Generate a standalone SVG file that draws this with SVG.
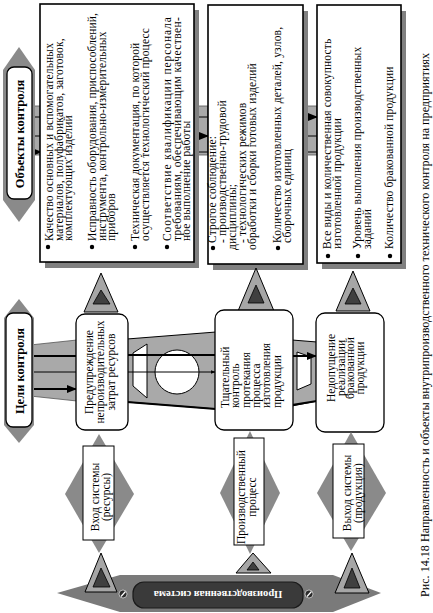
<svg xmlns="http://www.w3.org/2000/svg" width="433" height="613" viewBox="0 0 433 613">
<style>
text{font-family:"Liberation Serif","Times New Roman",serif;fill:#000}
.t{font-size:11.5px;letter-spacing:0.15px}
.m{font-size:11.5px}
.lbl{font-size:12.5px;font-weight:bold}
.box{fill:#fff;stroke:#000;stroke-width:1.6}
.shd{fill:#808080}
.rbox{fill:#fff;stroke:#000;stroke-width:1.3}
.lr{fill:#fff;stroke:#000;stroke-width:1}
.dia{fill:#8a8a8a}
.tri{fill:#a6a6a6;stroke:#000;stroke-width:1}
.tin{fill:#404040;stroke:#000;stroke-width:0.8}
.band{fill:#a9a9a9;stroke:#555;stroke-width:0.8}
.thk{stroke:#000;stroke-width:2;fill:none}
.thn{stroke:#000;stroke-width:1;fill:none}
.bul{fill:#000}
</style>
<defs>
<marker id="ah" viewBox="0 0 10 10" refX="9" refY="5" markerWidth="5" markerHeight="5" orient="auto">
<path d="M0,1 L10,5 L0,9 z" fill="#000"/>
</marker>
</defs>

<!-- connectors -->
<g id="connectors">
  <rect class="band" x="32" y="106" width="9" height="49"/>
  <line class="thn" x1="32" y1="117" x2="41" y2="117"/>
  <line class="thn" x1="32" y1="136" x2="41" y2="136"/>
  <line class="thk" x1="30" y1="152" x2="41" y2="152" marker-end="url(#ah)"/>
  <rect class="band" x="194" y="106" width="14" height="49"/>
  <line class="thn" x1="194" y1="117" x2="208" y2="117"/>
  <line class="thk" x1="194" y1="136" x2="208" y2="136" marker-end="url(#ah)"/>
  <line class="thn" x1="194" y1="152" x2="208" y2="152"/>
  <rect class="band" x="303" y="106" width="14" height="49"/>
  <line class="thk" x1="303" y1="117" x2="317" y2="117" marker-end="url(#ah)"/>
  <line class="thn" x1="303" y1="136" x2="317" y2="136"/>
  <line class="thn" x1="303" y1="152" x2="317" y2="152"/>
  <polygon class="band" points="30,345 77,340 77,401 30,396"/>
  <line class="thk" x1="30" y1="356" x2="77" y2="356"/>
  <line class="thn" x1="30" y1="372" x2="77" y2="372"/>
  <line class="thk" x1="30" y1="389" x2="76" y2="389" marker-end="url(#ah)"/>
  <polygon points="127,339 216,332 216,409 127,402" fill="#a9a9a9" stroke="#000" stroke-width="1"/>
  <line class="thk" x1="127" y1="402" x2="216" y2="409"/>
  <polygon points="133,353 147,344 147,398 133,386" fill="#fff" stroke="#000" stroke-width="1"/>
  <circle cx="177" cy="372" r="22" fill="#fff" stroke="#000" stroke-width="1"/>
  <line class="thk" x1="127" y1="355" x2="216" y2="355"/>
  <line class="thn" x1="127" y1="372" x2="215" y2="372" marker-end="url(#ah)"/>
  <polygon points="292,340 317,342 317,401 292,406" fill="#a9a9a9" stroke="#000" stroke-width="1"/>
  <polygon points="297,352 311,357 311,384 297,390" fill="#fff" stroke="#000" stroke-width="1"/>
  <line class="thk" x1="292" y1="356" x2="316" y2="356" marker-end="url(#ah)"/>
  <line class="thk" x1="292" y1="405" x2="317" y2="401"/>
</g>

<g id="objects-label">
  <polygon class="dia" points="19,47 35,70 35,200 19,222 3,200 3,70"/>
  <rect class="rbox" x="7" y="67" width="25" height="132" rx="7"/>
  <text class="lbl" text-anchor="middle" transform="translate(23.5,134) rotate(-90)">Объекты контроля</text>
</g>

<g id="goals-label">
  <polygon class="dia" points="19,299 34,318 34,425 19,443 4,425 4,318"/>
  <rect class="rbox" x="6" y="313" width="26" height="114" rx="7"/>
  <text class="lbl" text-anchor="middle" transform="translate(23.5,371) rotate(-90)">Цели контроля</text>
</g>

<g id="obj-box-1">
  <rect class="shd" x="45" y="10" width="154" height="258"/>
  <rect class="box" x="40" y="4" width="154" height="258"/>
  <circle class="bul" cx="48" cy="247" r="2.2"/>
  <text class="t" transform="translate(53,241) rotate(-90)"><tspan x="0">Качество основных и вспомогательных</tspan><tspan x="0" dy="9.5">материалов, полуфабрикатов, заготовок,</tspan><tspan x="0" dy="9.5">комплектующих изделий</tspan></text>
  <circle class="bul" cx="92" cy="247" r="2.2"/>
  <text class="t" transform="translate(96,241) rotate(-90)"><tspan x="0" textLength="228" lengthAdjust="spacingAndGlyphs">Исправность оборудования, приспособлений,</tspan><tspan x="0" dy="9.5">инструмента, контрольно-измерительных</tspan><tspan x="0" dy="9.5">приборов</tspan></text>
  <circle class="bul" cx="135" cy="247" r="2.2"/>
  <text class="t" transform="translate(139,241) rotate(-90)"><tspan x="0">Техническая документация, по которой</tspan><tspan x="0" dy="9.5">осуществляется технологический процесс</tspan></text>
  <circle class="bul" cx="167" cy="247" r="2.2"/>
  <text class="t" transform="translate(171,241) rotate(-90)"><tspan x="0" textLength="224" lengthAdjust="spacing">Соответствие квалификации персонала</tspan><tspan x="0" dy="9.5" textLength="224" lengthAdjust="spacing">требованиям, обеспечивающим качествен-</tspan><tspan x="0" dy="9.5">ное выполнение работы</tspan></text>
</g>

<g id="obj-box-2">
  <rect class="shd" x="213" y="11" width="95" height="259"/>
  <rect class="box" x="208" y="5" width="95" height="259"/>
  <circle class="bul" cx="213" cy="248" r="2.2"/>
  <text class="t" transform="translate(216,243) rotate(-90)"><tspan x="0">Строгое соблюдение:</tspan><tspan x="0" dy="10">- производственно-трудовой</tspan><tspan x="-7" dy="9.5">дисциплины;</tspan><tspan x="0" dy="10">- технологических режимов</tspan><tspan x="-7" dy="10">обработки и сборки готовых изделий</tspan></text>
  <circle class="bul" cx="278" cy="248" r="2.2"/>
  <text class="t" transform="translate(281,243) rotate(-90)"><tspan x="0">Количество изготовленных деталей, узлов,</tspan><tspan x="0" dy="9.5">сборочных единиц</tspan></text>
</g>

<g id="obj-box-3">
  <rect class="shd" x="322" y="11" width="84" height="258"/>
  <rect class="box" x="317" y="5" width="84" height="258"/>
  <circle class="bul" cx="328" cy="256" r="2.2"/>
  <text class="t" transform="translate(331,249) rotate(-90)"><tspan x="0">Все виды и количественная совокупность</tspan><tspan x="0" dy="9.5">изготовленной продукции</tspan></text>
  <circle class="bul" cx="358" cy="256" r="2.2"/>
  <text class="t" transform="translate(361,249) rotate(-90)"><tspan x="0">Уровень выполнения производственных</tspan><tspan x="0" dy="9.5">заданий</tspan></text>
  <circle class="bul" cx="390" cy="256" r="2.2"/>
  <text class="t" transform="translate(393,249) rotate(-90)">Количество бракованной продукции</text>
</g>

<g id="tri-up-1"><polygon class="tri" points="101,273 84,312 118,312"/><polygon class="tin" points="101,290 93,304 110,304"/></g>
<g id="tri-up-2"><polygon class="tri" points="256,268 238,311 274,311"/><polygon class="tin" points="256,285 248,303 264,303"/></g>
<g id="tri-up-3"><polygon class="tri" points="353,271 336,311 370,311"/><polygon class="tin" points="353,288 345,304 361,304"/></g>

<g id="goal-1">
  <rect class="rbox" x="76" y="314" width="52" height="116" rx="9"/>
  <text class="m" text-anchor="middle" transform="translate(93,372) rotate(-90)"><tspan x="0">Предупреждение</tspan><tspan x="0" dy="11">непроизводительных</tspan><tspan x="0" dy="11">затрат ресурсов</tspan></text>
</g>
<g id="goal-2">
  <rect class="rbox" x="215" y="310" width="78" height="120" rx="9"/>
  <text class="m" transform="translate(229,408) rotate(-90)"><tspan x="0">Тщательный</tspan><tspan x="0" dy="10.3">контроль</tspan><tspan x="0" dy="10.3">протекания</tspan><tspan x="0" dy="10.3">процесса</tspan><tspan x="0" dy="10.3">изготовления</tspan><tspan x="0" dy="10.3">продукции</tspan></text>
</g>
<g id="goal-3">
  <rect class="rbox" x="316" y="313" width="68" height="119" rx="9"/>
  <text class="m" text-anchor="middle" transform="translate(335,368) rotate(-90)"><tspan x="0">Недопущение</tspan><tspan x="0" dy="9.5">реализации</tspan><tspan x="0" dy="9.5">бракованной</tspan><tspan x="0" dy="9.5">продукции</tspan></text>
</g>

<g id="sys-in">
  <polygon class="dia" points="99,434 134,494 99,553 65,494"/>
  <rect class="lr" x="83" y="446" width="31" height="94"/>
  <text class="m" text-anchor="middle" transform="translate(99,497) rotate(-90)"><tspan x="0">Вход системы</tspan><tspan x="0" dy="10.5">(ресурсы)</tspan></text>
</g>
<g id="sys-process">
  <polygon class="dia" points="250,431 280,493 250,554 220,493"/>
  <rect class="lr" x="234" y="438" width="30" height="107"/>
  <text class="m" text-anchor="middle" transform="translate(245,497) rotate(-90)"><tspan x="0">Производственный</tspan><tspan x="0" dy="10.5">процесс</tspan></text>
</g>
<g id="sys-out">
  <polygon class="dia" points="351,432 386,493 351,551 317,493"/>
  <rect class="lr" x="333" y="444" width="31" height="94"/>
  <text class="m" text-anchor="middle" transform="translate(351,493) rotate(-90)"><tspan x="0">Выход системы</tspan><tspan x="0" dy="10.5">(продукция)</tspan></text>
</g>

<g id="banner">
  <polygon points="57,593 120,575 333,575 381,593 333,612 120,612" fill="#7a7a7a"/>
  <rect x="133" y="582" width="170" height="26" rx="11" fill="#3a3a3a" stroke="#1a1a1a" stroke-width="1.2"/>
  <text x="0" y="0" transform="translate(218,591) rotate(180)" text-anchor="middle" style="font-size:10.5px;font-weight:bold;fill:#fff">Производственная система</text>
  <circle cx="123" cy="594" r="4" fill="#2a2a2a" stroke="#fff" stroke-width="0.6"/>
  <line x1="121" y1="596.5" x2="125.5" y2="591.5" stroke="#fff" stroke-width="1.2"/>
  <circle cx="309" cy="594" r="4" fill="#2a2a2a" stroke="#fff" stroke-width="0.6"/>
  <line x1="307" y1="596.5" x2="311.5" y2="591.5" stroke="#fff" stroke-width="1.2"/>
</g>

<g id="tri-low-1"><polygon class="tri" points="101,553 85,592 117,592"/><polygon class="tin" points="101,568 93,587 110,587"/></g>
<g id="tri-low-2"><polygon class="tri" points="253,553 236,573 271,573"/><polygon class="tin" points="253,562 247,570 259,570"/></g>
<g id="tri-low-3"><polygon class="tri" points="352,553 335,593 369,593"/><polygon class="tin" points="352,568 344,588 360,588"/></g>

<text style="font-size:12px" transform="translate(429,597) rotate(-90)" textLength="544" lengthAdjust="spacingAndGlyphs">Рис. 14.18 Направленность и объекты внутрипроизводственного технического контроля на предприятиях</text>
</svg>
